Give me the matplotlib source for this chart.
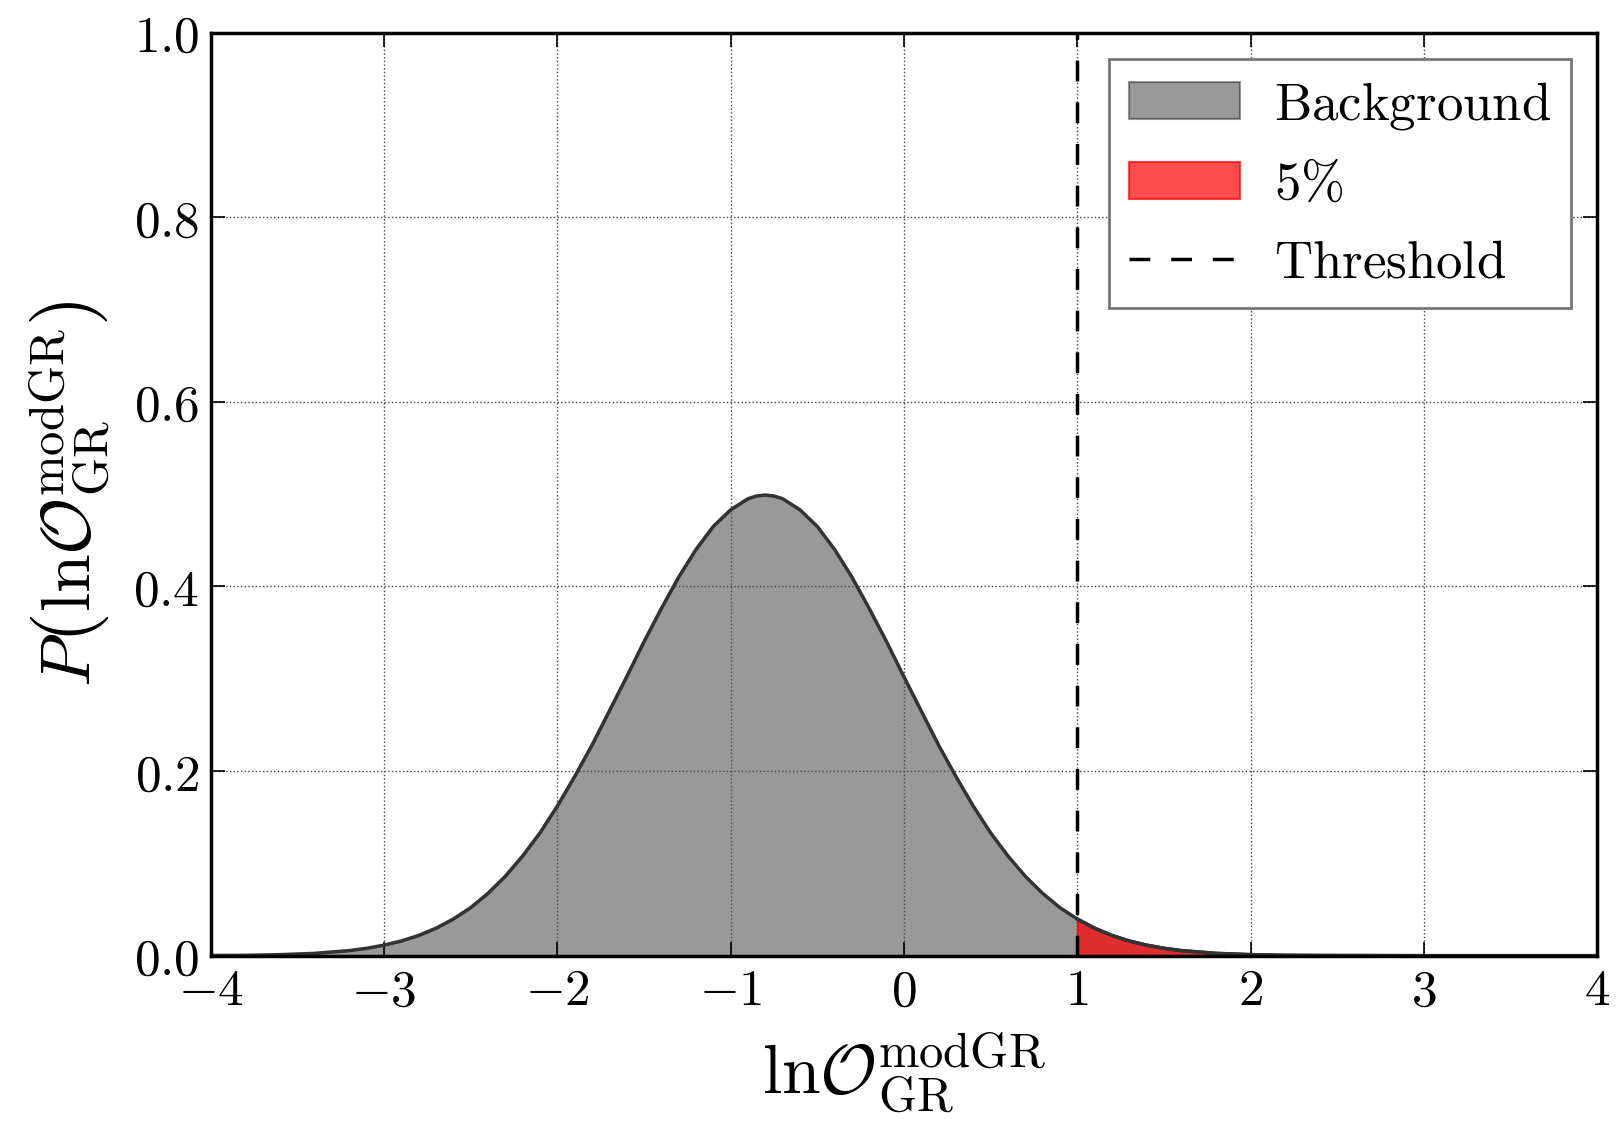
import matplotlib
matplotlib.use("Agg")
import matplotlib.pyplot as plt
from matplotlib.ticker import FuncFormatter
import numpy as np

plt.rcParams['mathtext.fontset'] = 'cm'
plt.rcParams['font.family'] = 'serif'
plt.rcParams['font.serif'] = ['DejaVu Serif']

# density
lnO = [-4.0, -3.8, -3.6, -3.4, -3.2, -3.1, -3.0, -2.9, -2.8, -2.7, -2.6, -2.5, -2.4, -2.3,
       -2.2, -2.1, -2.0, -1.9, -1.8, -1.7, -1.6, -1.5, -1.4, -1.3, -1.2, -1.1, -1.0, -0.9,
       -0.85, -0.8, -0.75, -0.7, -0.6, -0.5, -0.4, -0.3, -0.2, -0.1, 0.0, 0.1, 0.2, 0.3,
       0.4, 0.5, 0.6, 0.7, 0.8, 0.9, 1.0, 1.1, 1.2, 1.3, 1.4, 1.5, 1.6, 1.8, 2.0, 2.2, 2.4,
       3.0, 4.0]
dens = [0.0002, 0.0004, 0.0011, 0.0025, 0.0055, 0.0080, 0.0114, 0.0159, 0.0219, 0.0297,
        0.0397, 0.052, 0.0675, 0.086, 0.108, 0.133, 0.162, 0.194, 0.228, 0.265, 0.302,
        0.340, 0.376, 0.410, 0.440, 0.465, 0.483, 0.495, 0.498, 0.499, 0.498, 0.495, 0.483,
        0.465, 0.440, 0.410, 0.376, 0.340, 0.302, 0.265, 0.228, 0.194, 0.162, 0.133, 0.108,
        0.086, 0.0675, 0.052, 0.0397, 0.0297, 0.0219, 0.0159, 0.0114, 0.0080, 0.0055,
        0.0025, 0.0011, 0.0004, 0.0002, 0.0, 0.0]
threshold = 1.0
labels = [r'$\mathrm{Background}$', r'$\mathrm{5\%}$', r'$\mathrm{Threshold}$']

x = np.array(lnO)
y = np.array(dens)

fig = plt.figure(figsize=(16.2, 11.23), dpi=100)
ax = fig.add_axes([0.130, 0.149, 0.856, 0.822])

bg = ax.fill_between(x, 0, y, color='k', alpha=0.4, lw=1.5)
ax.plot(x, y, color='#333333', lw=2.5)
tail = ax.fill_between(x, 0, y, where=x >= threshold, color='red', alpha=0.7, lw=1.5)
ax.plot(x[x >= threshold], y[x >= threshold], color='#333333', lw=2.5)
thr = ax.axvline(threshold, color='k', ls='--', lw=2.5, dashes=(6, 6))

ax.set_xlim(-4, 4)
ax.set_ylim(0, 1.0)
ax.set_xticks([-4, -3, -2, -1, 0, 1, 2, 3, 4])
ax.set_yticks([0.0, 0.2, 0.4, 0.6, 0.8, 1.0])
ax.xaxis.set_major_formatter(FuncFormatter(lambda v, p: r'$%d$' % v))
ax.yaxis.set_major_formatter(FuncFormatter(lambda v, p: r'$%.1f$' % v))
ax.tick_params(direction='in', length=10, width=1.2, top=True, right=True,
               labelsize=37, pad=8)
ax.grid(True, ls=':', color='#444444', lw=1.0)
for s in ax.spines.values():
    s.set_linewidth(2.5)

ax.set_xlabel(r'${\rm ln}\mathcal{O}_{\rm GR}^{\rm modGR}$', fontsize=50, labelpad=10)
ax.set_ylabel(r'$P\left({\rm ln}\mathcal{O}_{\rm GR}^{\rm modGR}\right)$', fontsize=50,
              labelpad=14)

leg = ax.legend([bg, tail, thr], labels, loc='upper right', fontsize=38,
                handlelength=2.1, handleheight=0.7, handletextpad=0.65,
                borderpad=0.38, labelspacing=0.52, borderaxespad=0.5, fancybox=False)
leg.get_frame().set_edgecolor('#777777')
leg.get_frame().set_linewidth(2)
leg.get_frame().set_alpha(1)

fig.savefig('out.png', dpi=100, facecolor='white')
